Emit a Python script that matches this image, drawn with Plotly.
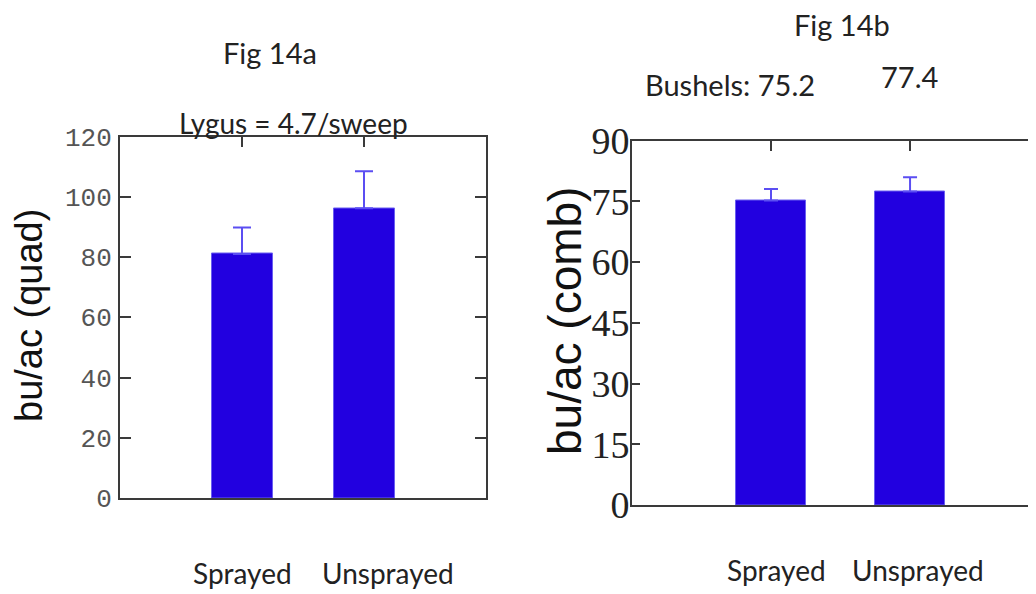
import plotly.graph_objects as go

# ---- data ----
categories = ["Sprayed", "Unsprayed"]
quad_values = [81.0, 96.2]          # Fig 14a, bu/ac (quad)
quad_errors = [8.8, 12.3]
comb_values = [75.2, 77.4]          # Fig 14b, bu/ac (comb)
comb_errors = [2.8, 3.5]
quad_ticks = [0, 20, 40, 60, 80, 100, 120]
comb_ticks = [0, 15, 30, 45, 60, 75, 90]

BAR = "#2200e0"
BAR_EDGE = "#6a5ff0"
ERR = "#5b4ef2"
AXC = "#3a3a3a"

# page has an 8px body margin; figure is sized to the visible area
OFF = 8
W, H = 1036 - OFF, 594 - OFF

def fx(px):
    return (px - OFF) / W

def fy(py):
    return (H - (py - OFF)) / H

fig = go.Figure()
fig.add_trace(go.Bar(
    x=categories, y=quad_values, width=0.5,
    marker=dict(color=BAR, line=dict(color=BAR_EDGE, width=1)),
    error_y=dict(type="data", symmetric=False, array=quad_errors, arrayminus=[0, 0],
                 color=ERR, thickness=2, width=9),
    xaxis="x", yaxis="y", showlegend=False))
fig.add_trace(go.Bar(
    x=categories, y=comb_values, width=0.5,
    marker=dict(color=BAR, line=dict(color=BAR_EDGE, width=1)),
    error_y=dict(type="data", symmetric=False, array=comb_errors, arrayminus=[0, 0],
                 color=ERR, thickness=2, width=7),
    xaxis="x2", yaxis="y2", showlegend=False))

common_x = dict(type="category", showline=True, linecolor=AXC, linewidth=2, mirror="allticks",
                ticks="inside", ticklen=10, tickcolor=AXC, tickwidth=2, showticklabels=False,
                layer="below traces", showgrid=False, zeroline=False, automargin=False)

fig.update_layout(
    template="none",
    width=W, height=H,
    margin=dict(l=0, r=0, t=0, b=0, pad=0),
    paper_bgcolor="white", plot_bgcolor="white",
    bargap=0, showlegend=False,
    xaxis=dict(domain=[fx(120), fx(486)], anchor="y", range=[-1.0, 2.0], **common_x),
    yaxis=dict(domain=[fy(498), fy(136.5)], anchor="x", range=[0, 120], tickvals=quad_ticks,
               showline=True, linecolor=AXC, linewidth=2, mirror="ticks",
               ticks="inside", ticklen=11, tickcolor=AXC, tickwidth=2,
               tickfont=dict(family="Liberation Mono", size=26, color="#555555"),
               ticklabelstandoff=1, showgrid=False, zeroline=False, automargin=False),
    xaxis2=dict(domain=[fx(632), 1.0], anchor="y2", range=[-1.0, 1.906], **common_x),
    yaxis2=dict(domain=[fy(505), fy(140.5)], anchor="x2", range=[0, 90], tickvals=comb_ticks,
                showline=True, linecolor=AXC, linewidth=2, mirror=False,
                ticks="inside", ticklen=8, tickcolor=AXC, tickwidth=2,
                tickfont=dict(family="Liberation Serif", size=38, color="#222222"),
                ticklabelstandoff=-7, showgrid=False, zeroline=False, automargin=False),
)

txt = dict(family="Lato", color="#222222")

annos = [
    dict(text="Fig 14a", x=270, y=52, size=29),
    dict(text="Lygus = 4.7/sweep", x=293, y=123, size=28),
    dict(text="Fig 14b", x=842, y=25, size=29),
    dict(text="Bushels: 75.2", x=730, y=84, size=29),
    dict(text="77.4", x=909, y=77, size=29),
]
for a in annos:
    fig.add_annotation(text=a["text"], x=fx(a["x"]), y=fy(a["y"]), xref="paper", yref="paper",
                       xanchor="center", yanchor="middle", showarrow=False,
                       font=dict(size=a["size"], **txt))

# y-axis titles
fig.add_annotation(text="bu/ac (quad)", x=fx(29), y=fy(316), xref="paper", yref="paper",
                   textangle=-90, showarrow=False, xanchor="center", yanchor="middle",
                   borderpad=0,
                   font=dict(family="Liberation Sans", size=38, color="#111111"))
fig.add_annotation(text="bu/ac (comb)", x=fx(565), y=fy(321), xref="paper", yref="paper",
                   textangle=-90, showarrow=False, xanchor="center", yanchor="middle",
                   borderpad=0,
                   font=dict(family="Liberation Sans", size=46, color="#111111"))

# category labels below each panel
label_shift_a = [0, 24]
label_shift_b = [5, 8]
for cat, s in zip(categories, label_shift_a):
    fig.add_annotation(text=cat, x=cat, xref="x", y=fy(573), yref="paper", xshift=s,
                       showarrow=False, xanchor="center", yanchor="middle",
                       font=dict(size=28, **txt))
for cat, s in zip(categories, label_shift_b):
    fig.add_annotation(text=cat, x=cat, xref="x2", y=fy(570), yref="paper", xshift=s,
                       showarrow=False, xanchor="center", yanchor="middle",
                       font=dict(size=28, **txt))

fig.write_html("out.html")
